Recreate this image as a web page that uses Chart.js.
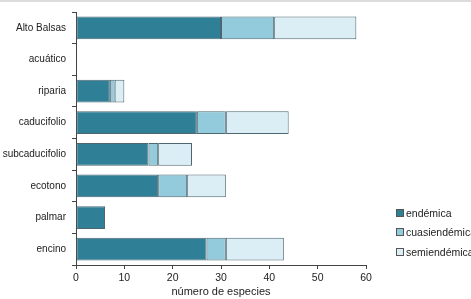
<!DOCTYPE html>
<html>
<head>
<meta charset="utf-8" />
<script src="https://cdn.jsdelivr.net/npm/chart.js@4.4.0/dist/chart.umd.min.js"></script>
<style>
  body{margin:0;background:#fff;font-family:'Liberation Sans',Arial,sans-serif;overflow:hidden;}
  #topband{position:absolute;left:0;top:0;width:471px;height:2px;background:#dcdcdc;}
  #wrap{position:absolute;left:0;top:0;width:471px;height:299px;}
  #legend{position:absolute;left:396px;top:203px;font-size:10.5px;color:#222;white-space:nowrap;}
  #legend div{height:19.5px;display:flex;align-items:center;}
  #legend span.box{display:inline-block;width:6px;height:6px;border:1px solid #555;margin-right:2px;}
</style>
</head>
<body>
<div id="topband"></div>
<div id="wrap"><canvas id="chart" width="471" height="299"></canvas></div>
<div id="legend"></div>
<script>
/* ---------- Data ---------- */
const categories = ['Alto Balsas','acuático','riparia','caducifolio','subcaducifolio','ecotono','palmar','encino'];
const endemica      = [30, 0, 7, 25, 15, 17, 6, 27];
const cuasiendemica = [11, 0, 1,  6,  2,  6, 0,  4];
const semiendemica  = [17, 0, 2, 13,  7,  8, 0, 12];
const seriesNames = ['endémica','cuasiendémica','semiendémica'];
const xTicks = [0, 10, 20, 30, 40, 50, 60];

/* ---------- Styles ---------- */
const fills = ['#2f7f97', '#93cbdc', '#dceef5'];
const FONT = { family: "'Liberation Sans', Arial, sans-serif", size: 10 };

const series = [endemica, cuasiendemica, semiendemica];
const datasets = series.map((d, i) => ({
  label: seriesNames[i],
  data: d,
  backgroundColor: fills[i],
  borderColor: '#4d6770',
  borderWidth: 1,
  borderSkipped: false,
  barPercentage: 0.72,
  categoryPercentage: 1
}));

new Chart(document.getElementById('chart'), {
  type: 'bar',
  data: { labels: categories, datasets },
  options: {
    indexAxis: 'y',
    responsive: false,
    animation: false,
    layout: { padding: { top: 4, right: 105, left: 0, bottom: 0 } },
    plugins: { legend: { display: false }, tooltip: { enabled: false } },
    scales: {
      x: {
        stacked: true,
        min: 0, max: 60,
        afterBuildTicks: s => { s.ticks = xTicks.map(v => ({ value: v })); },
        ticks: { color: '#222', font: { ...FONT, size: 10.5 }, padding: 3 },
        grid: { drawOnChartArea: false, drawTicks: true, tickLength: 4, color: '#444' },
        border: { display: true, color: '#444' },
        title: { display: true, text: 'número de especies', color: '#222', font: { ...FONT, size: 11 }, padding: { top: 1, bottom: 0 } },
        afterFit: s => { s.height = 34; }
      },
      y: {
        stacked: true,
        ticks: { color: '#222', font: FONT, padding: 6 },
        grid: { drawOnChartArea: false, drawTicks: true, tickLength: 4, offset: true, color: '#444' },
        border: { display: true, color: '#444' },
        afterFit: s => { s.width = 76; }
      }
    }
  }
});

/* ---------- Legend ---------- */
const lg = document.getElementById('legend');
seriesNames.forEach((n, i) => {
  const row = document.createElement('div');
  row.innerHTML = '<span class="box" style="background:' + fills[i] + '"></span>' + n;
  lg.appendChild(row);
});
</script>
</body>
</html>
